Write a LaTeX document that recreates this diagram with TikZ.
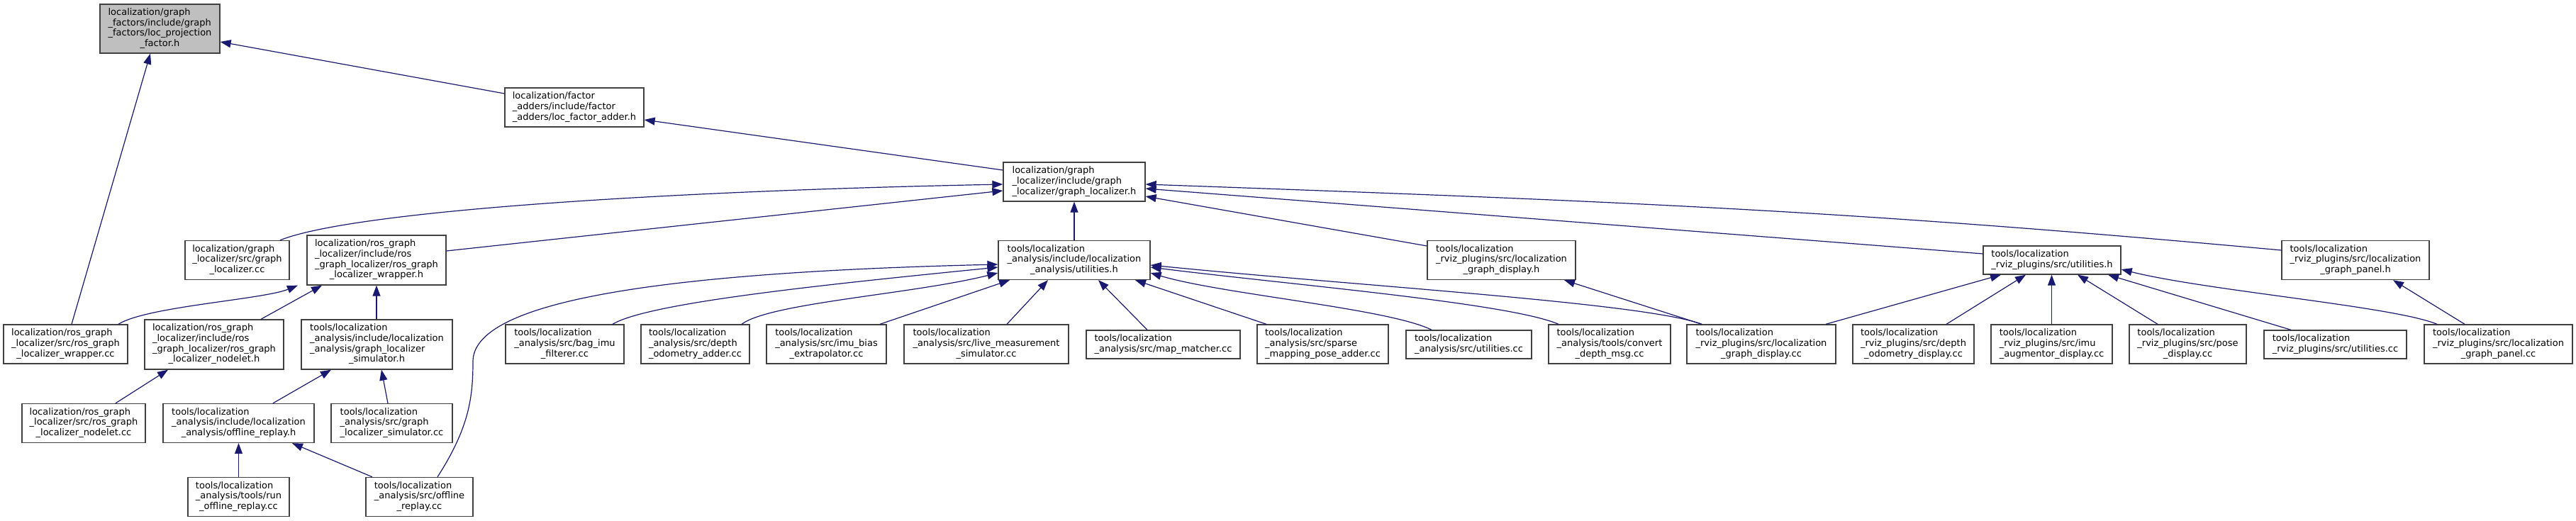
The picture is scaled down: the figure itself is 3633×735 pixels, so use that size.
\documentclass[tikz,border=0pt]{standalone}
\usepackage{fontspec}
\setmainfont{DejaVu Sans}
\usetikzlibrary{arrows.meta,calc}
\definecolor{edgeblue}{HTML}{191970}
\definecolor{boxgray}{HTML}{404040}
\definecolor{rootfill}{HTML}{BFBFBF}
\newcommand{\flbl}[2]{\begin{tabular}{@{}l@{}}#1\\\multicolumn{1}{@{}c@{}}{#2}\end{tabular}}
\begin{document}
\begin{tikzpicture}[x=1pt,y=-1pt,
 dbox/.style={draw=boxgray,line width=1.3pt,fill=white,inner sep=0pt,font=\fontsize{13}{14.7}\selectfont},
 dep/.style={draw=edgeblue,line width=1.2pt,-{Triangle[length=15pt,width=11pt]}}]
\useasboundingbox (0,0) rectangle (3633,735);
% top levels
\node[dbox,fill=rootfill,minimum width=169pt,minimum height=69pt] (root) at (225.5,40.5) {\flbl{localization/graph\\\_factors/include/graph\\\_factors/loc\_projection}{\_factor.h}};
\node[dbox,minimum width=196pt,minimum height=55pt] (fadder) at (810,151.5) {\flbl{localization/factor\\\_adders/include/factor}{\_adders/loc\_factor\_adder.h}};
\node[dbox,minimum width=200pt,minimum height=55pt] (glh) at (1515,256.5) {\flbl{localization/graph\\\_localizer/include/graph}{\_localizer/graph\_localizer.h}};
% row 2
\node[dbox,minimum width=147pt,minimum height=55pt] (glcc) at (334.5,367) {\flbl{localization/graph\\\_localizer/src/graph}{\_localizer.cc}};
\node[dbox,minimum width=196pt,minimum height=70pt] (wraph) at (531,367) {\flbl{localization/ros\_graph\\\_localizer/include/ros\\\_graph\_localizer/ros\_graph}{\_localizer\_wrapper.h}};
\node[dbox,minimum width=214pt,minimum height=55pt] (utilh) at (1515,367) {\flbl{tools/localization\\\_analysis/include/localization}{\_analysis/utilities.h}};
\node[dbox,minimum width=209pt,minimum height=55pt] (disph) at (2117.5,367) {\flbl{tools/localization\\\_rviz\_plugins/src/localization}{\_graph\_display.h}};
\node[dbox,minimum width=194pt,minimum height=40pt] (rutilh) at (2894,367) {\flbl{tools/localization}{\_rviz\_plugins/src/utilities.h}};
\node[dbox,minimum width=208pt,minimum height=55pt] (panelh) at (3322,367) {\flbl{tools/localization\\\_rviz\_plugins/src/localization}{\_graph\_panel.h}};
% row 3
\node[dbox,minimum width=175pt,minimum height=55pt] (wrapcc) at (92.5,485.5) {\flbl{localization/ros\_graph\\\_localizer/src/ros\_graph}{\_localizer\_wrapper.cc}};
\node[dbox,minimum width=196pt,minimum height=70pt] (nodeleth) at (302,486) {\flbl{localization/ros\_graph\\\_localizer/include/ros\\\_graph\_localizer/ros\_graph}{\_localizer\_nodelet.h}};
\node[dbox,minimum width=213pt,minimum height=70pt] (simh) at (531.5,486) {\flbl{tools/localization\\\_analysis/include/localization\\\_analysis/graph\_localizer}{\_simulator.h}};
\node[dbox,minimum width=167pt,minimum height=55pt] (bagimu) at (796.5,485.5) {\flbl{tools/localization\\\_analysis/src/bag\_imu}{\_filterer.cc}};
\node[dbox,minimum width=153pt,minimum height=55pt] (depthadd) at (980.5,485.5) {\flbl{tools/localization\\\_analysis/src/depth}{\_odometry\_adder.cc}};
\node[dbox,minimum width=169pt,minimum height=55pt] (imubias) at (1165.5,485.5) {\flbl{tools/localization\\\_analysis/src/imu\_bias}{\_extrapolator.cc}};
\node[dbox,minimum width=232pt,minimum height=55pt] (live) at (1391,485.5) {\flbl{tools/localization\\\_analysis/src/live\_measurement}{\_simulator.cc}};
\node[dbox,minimum width=217pt,minimum height=40pt] (mapm) at (1640.5,486) {\flbl{tools/localization}{\_analysis/src/map\_matcher.cc}};
\node[dbox,minimum width=185pt,minimum height=55pt] (sparse) at (1865.5,485.5) {\flbl{tools/localization\\\_analysis/src/sparse}{\_mapping\_pose\_adder.cc}};
\node[dbox,minimum width=177pt,minimum height=40pt] (autilcc) at (2071.5,486) {\flbl{tools/localization}{\_analysis/src/utilities.cc}};
\node[dbox,minimum width=172pt,minimum height=55pt] (convert) at (2270,485.5) {\flbl{tools/localization\\\_analysis/tools/convert}{\_depth\_msg.cc}};
\node[dbox,minimum width=210pt,minimum height=55pt] (dispcc) at (2484,485.5) {\flbl{tools/localization\\\_rviz\_plugins/src/localization}{\_graph\_display.cc}};
\node[dbox,minimum width=171pt,minimum height=55pt] (depthdisp) at (2698.5,485.5) {\flbl{tools/localization\\\_rviz\_plugins/src/depth}{\_odometry\_display.cc}};
\node[dbox,minimum width=171pt,minimum height=55pt] (imuaug) at (2893.5,485.5) {\flbl{tools/localization\\\_rviz\_plugins/src/imu}{\_augmentor\_display.cc}};
\node[dbox,minimum width=165pt,minimum height=55pt] (posedisp) at (3085.5,485.5) {\flbl{tools/localization\\\_rviz\_plugins/src/pose}{\_display.cc}};
\node[dbox,minimum width=201pt,minimum height=40pt] (rutilcc) at (3293.5,486) {\flbl{tools/localization}{\_rviz\_plugins/src/utilities.cc}};
\node[dbox,minimum width=209pt,minimum height=55pt] (panelcc) at (3523.5,485.5) {\flbl{tools/localization\\\_rviz\_plugins/src/localization}{\_graph\_panel.cc}};
% row 4
\node[dbox,minimum width=174pt,minimum height=55pt] (nodeletcc) at (118,597) {\flbl{localization/ros\_graph\\\_localizer/src/ros\_graph}{\_localizer\_nodelet.cc}};
\node[dbox,minimum width=213pt,minimum height=55pt] (offh) at (336.5,597) {\flbl{tools/localization\\\_analysis/include/localization}{\_analysis/offline\_replay.h}};
\node[dbox,minimum width=171pt,minimum height=55pt] (simcc) at (552.5,597) {\flbl{tools/localization\\\_analysis/src/graph}{\_localizer\_simulator.cc}};
% row 5
\node[dbox,minimum width=143pt,minimum height=55pt] (runoff) at (336.5,701) {\flbl{tools/localization\\\_analysis/tools/run}{\_offline\_replay.cc}};
\node[dbox,minimum width=151pt,minimum height=55pt] (offcc) at (591.5,701) {\flbl{tools/localization\\\_analysis/src/offline}{\_replay.cc}};
\coordinate (offbend) at (667,510);
% edges
\draw[dep] ($(fadder.west)+(0,-19.5)$) -- ($(root.east)+(0,18.5)$);
\draw[dep] ($(wrapcc.north)+(8.5,0)$) -- ($(root.south)+(-13.5,0)$);
\draw[dep] ($(glh.west)+(0,-16.5)$) -- ($(fadder.east)+(0,17.5)$);
\draw[dep] ($(glcc.north)+(60.5,0)$) .. controls +(100,-40) and +(-500,10) .. ($(glh.west)+(0,3.5)$);
\draw[dep] ($(wraph.east)+(0,-13)$) -- ($(glh.west)+(0,12.5)$);
\draw[dep] (utilh.north) -- (glh.south);
\draw[dep] ($(disph.west)+(0,-20)$) -- ($(glh.east)+(0,20.5)$);
\draw[dep] ($(rutilh.west)+(0,-9)$) -- ($(glh.east)+(0,9.5)$);
\draw[dep] ($(panelh.west)+(0,-14)$) .. controls +(-600,-55) and +(700,25) .. ($(glh.east)+(0,3.5)$);
\draw[dep] ($(wrapcc.north)+(74.5,0)$) .. controls +(40,-25) and +(-50,20) .. ($(wraph.south)+(-111,0)$);
\draw[dep] ($(nodeleth.north)+(66,0)$) -- ($(wraph.south)+(-77,0)$);
\draw[dep] (simh.north -| wraph.south) -- (wraph.south);
\draw[dep] ($(nodeletcc.north)+(45,0)$) -- ($(nodeleth.south)+(-65,0)$);
\draw[dep] ($(offh.north)+(48.5,0)$) -- ($(simh.south)+(-64.5,0)$);
\draw[dep] ($(simcc.north)+(-5.5,0)$) -- ($(simh.south)+(6.5,0)$);
\draw[dep] (runoff.north) -- (offh.south);
\draw[dep] ($(offcc.north)+(-66.5,0)$) -- ($(offh.south)+(75.5,0)$);
\draw[dep] ($(offcc.north)+(25.5,0)$) .. controls +(45,-70) and +(0,50) .. (offbend) .. controls +(0,-80) and +(-508,12) .. ($(utilh.west)+(0,6)$);
\draw[dep] ($(bagimu.north)+(67.5,0)$) .. controls +(50,-30) and +(-250,25) .. ($(utilh.west)+(0,10)$);
\draw[dep] ($(depthadd.north)+(65.5,0)$) .. controls +(40,-30) and +(-120,30) .. ($(utilh.west)+(0,18)$);
\draw[dep] ($(imubias.north)+(75.5,0)$) -- ($(utilh.south)+(-91,0)$);
\draw[dep] ($(live.north)+(29,0)$) -- ($(utilh.south)+(-37,0)$);
\draw[dep] ($(mapm.north)+(-22.5,0)$) -- ($(utilh.south)+(34,0)$);
\draw[dep] ($(sparse.north)+(-79.5,0)$) -- ($(utilh.south)+(86,0)$);
\draw[dep] ($(autilcc.north)+(-52.5,0)$) .. controls +(-60,-30) and +(100,30) .. ($(utilh.east)+(0,18)$);
\draw[dep] ($(convert.north)+(-72,0)$) .. controls +(-70,-30) and +(200,25) .. ($(utilh.east)+(0,10)$);
\draw[dep] ($(dispcc.north)+(-84,0)$) .. controls +(-80,-30) and +(300,30) .. ($(utilh.east)+(0,7)$);
\draw[dep] ($(dispcc.north)+(-84,0)$) -- ($(disph.south)+(88.5,0)$);
\draw[dep] ($(dispcc.north)+(91,0)$) -- ($(rutilh.south)+(-72,0)$);
\draw[dep] ($(depthdisp.north)+(46.5,0)$) -- ($(rutilh.south)+(-37,0)$);
\draw[dep] (imuaug.north) -- (imuaug.north |- rutilh.south);
\draw[dep] ($(posedisp.north)+(-42.5,0)$) -- ($(rutilh.south)+(36,0)$);
\draw[dep] ($(rutilcc.north)+(-62.5,0)$) -- ($(rutilh.south)+(79,0)$);
\draw[dep] ($(panelcc.north)+(-86.5,0)$) .. controls +(-60,-25) and +(120,30) .. ($(rutilh.east)+(0,13)$);
\draw[dep] ($(panelcc.north)+(-47.5,0)$) -- ($(panelh.south)+(53,0)$);
\end{tikzpicture}
\end{document}
